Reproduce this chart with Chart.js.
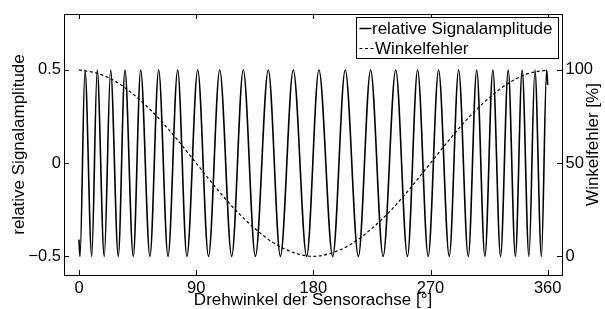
<!DOCTYPE html>
<html>
<head>
<meta charset="utf-8">
<script src="https://cdn.jsdelivr.net/npm/chart.js@4.4.0/dist/chart.umd.min.js"></script>
<style>
  body { margin: 0; background: #fff; }
  #wrap { width: 605px; height: 309px; }
</style>
</head>
<body>
<div id="wrap"><canvas id="chart" width="605" height="309"></canvas></div>
<script>
const sigAngles = [0, 0.8, 4.6, 9.8, 14.0, 19.4, 24.3, 30.2, 35.3, 41.7, 47.4, 54.5, 61.2, 68.4, 75.8,
  82.9, 91.2, 99.5, 108.1, 117.3, 126.2, 135.5, 145.4, 154.7, 164.6, 174.9, 184.3, 194.9, 204.5,
  214.6, 224.0, 233.6, 243.3, 252.3, 260.1, 268.2, 276.2, 284.4, 291.6, 299.0, 305.5, 311.8, 317.9,
  323.8, 329.7, 335.2, 340.4, 345.6, 350.2, 355.2, 359.2, 360];
const sigValues = [-0.41, -0.5, 0.5, -0.5, 0.5, -0.5, 0.5, -0.5, 0.5, -0.5, 0.5, -0.5, 0.5, -0.5, 0.5,
  -0.5, 0.5, -0.5, 0.5, -0.5, 0.5, -0.5, 0.5, -0.5, 0.5, -0.5, 0.5, -0.5, 0.5,
  -0.5, 0.5, -0.5, 0.5, -0.5, 0.5, -0.5, 0.5, -0.5, 0.5, -0.5, 0.5, -0.5, 0.5,
  -0.5, 0.5, -0.5, 0.5, -0.5, 0.5, -0.5, 0.5, 0.42];

// Winkelfehler [%]
const errAngles = [0, 15, 30, 45, 60, 75, 90, 105, 120, 135, 150, 165, 180,
  195, 210, 225, 240, 255, 270, 285, 300, 315, 330, 345, 360];
const errValues = [100, 98, 93, 85, 75, 63, 50, 37, 25, 15, 7, 2, 0,
  2, 7, 15, 25, 37, 50, 63, 75, 85, 93, 98, 100];

const xTicks = [0, 90, 180, 270, 360];
const yTicks = [-0.5, 0, 0.5];
const y2Ticks = [0, 50, 100];
const seriesLabels = ['relative Signalamplitude', 'Winkelfehler'];
const xTitle = 'Drehwinkel der Sensorachse [°]';
const yTitle = 'relative Signalamplitude';
const y2Title = 'Winkelfehler [%]';

const FONT = '"Liberation Sans", Arial, Helvetica, sans-serif';

function fixTicks(list) {
    return function (scale) {
        scale.ticks = list.map(v => ({ value: v }));
    };
}

function fmt(v) {
    return String(v).replace('-', '\u2212');
}

// frame, mirrored inward ticks, right title and the boxed legend
const framePlugin = {
    id: 'frame',
    afterDraw(chart) {
        const ctx = chart.ctx;
        const a = chart.chartArea;
        const sx = chart.scales.x, sy = chart.scales.y, sy2 = chart.scales.y2;
        const t = 5;

        ctx.save();
        ctx.strokeStyle = '#000';
        ctx.lineWidth = 1;
        ctx.beginPath();
        xTicks.forEach(v => {
            const px = Math.round(sx.getPixelForValue(v)) + 0.5;
            ctx.moveTo(px, a.bottom); ctx.lineTo(px, a.bottom - t);
            ctx.moveTo(px, a.top); ctx.lineTo(px, a.top + t);
        });
        yTicks.forEach(v => {
            const py = Math.round(sy.getPixelForValue(v)) + 0.5;
            ctx.moveTo(a.left, py); ctx.lineTo(a.left + t, py);
        });
        y2Ticks.forEach(v => {
            const py = Math.round(sy2.getPixelForValue(v)) + 0.5;
            ctx.moveTo(a.right, py); ctx.lineTo(a.right - t, py);
        });
        ctx.stroke();
        ctx.strokeRect(Math.round(a.left) + 0.5, Math.round(a.top) + 0.5,
            Math.round(a.right - a.left), Math.round(a.bottom - a.top));

        // right axis title, reading upwards
        ctx.fillStyle = '#000';
        ctx.font = '17px ' + FONT;
        ctx.translate(593, (a.top + a.bottom) / 2);
        ctx.rotate(-Math.PI / 2);
        ctx.textAlign = 'center';
        ctx.textBaseline = 'middle';
        ctx.fillText(y2Title, 0, 0);
        ctx.restore();

        // legend
        ctx.save();
        ctx.font = '17px ' + FONT;
        const tw = Math.max(...seriesLabels.map(s => ctx.measureText(s).width));
        const bw = Math.round(tw + 22);
        const right = Math.round(a.right) - 3.5;
        const left = right - bw;
        const top = Math.round(a.top) + 3.5;
        ctx.fillStyle = '#fff';
        ctx.fillRect(left, top, bw, 41);
        ctx.strokeStyle = '#000';
        ctx.lineWidth = 1;
        ctx.strokeRect(left, top, bw, 41);

        ctx.beginPath();
        ctx.lineWidth = 1.5;
        ctx.moveTo(left + 3, top + 11); ctx.lineTo(left + 15, top + 11);
        ctx.stroke();
        ctx.beginPath();
        ctx.lineWidth = 1.2;
        ctx.setLineDash([3, 2.5]);
        ctx.moveTo(left + 3, top + 31); ctx.lineTo(left + 17, top + 31);
        ctx.stroke();
        ctx.setLineDash([]);

        ctx.fillStyle = '#000';
        ctx.textAlign = 'left';
        ctx.textBaseline = 'alphabetic';
        ctx.fillText(seriesLabels[0], left + 15.5, top + 16);
        ctx.fillText(seriesLabels[1], left + 18.5, top + 36);
        ctx.restore();
    }
};

const ctx = document.getElementById('chart').getContext('2d');

new Chart(ctx, {
    type: 'line',
    data: {
        datasets: [{
            label: seriesLabels[0],
            data: sigAngles.map((x, i) => ({ x: x, y: sigValues[i] })),
            yAxisID: 'y',
            borderColor: '#000',
            borderWidth: 1.6,
            pointRadius: 0,
            cubicInterpolationMode: 'monotone',
            fill: false
        }, {
            label: seriesLabels[1],
            data: errAngles.map((x, i) => ({ x: x, y: errValues[i] })),
            yAxisID: 'y2',
            borderColor: '#000',
            borderWidth: 1.2,
            borderDash: [3, 2.5],
            pointRadius: 0,
            cubicInterpolationMode: 'monotone',
            fill: false
        }]
    },
    options: {
        responsive: false,
        animation: false,
        devicePixelRatio: 1,
        layout: { padding: { top: 14, left: 0, right: 0, bottom: 0 } },
        plugins: {
            legend: { display: false },
            tooltip: { enabled: false }
        },
        scales: {
            x: {
                type: 'linear',
                min: -11.5,
                max: 371,
                afterBuildTicks: fixTicks(xTicks),
                afterFit(s) { s.height = 34; },
                grid: { display: false, drawTicks: false },
                border: { display: false },
                ticks: {
                    color: '#000',
                    padding: 4,
                    maxRotation: 0,
                    autoSkip: false,
                    font: { family: FONT, size: 16.5 }
                },
                title: {
                    display: true,
                    text: xTitle,
                    color: '#000',
                    padding: 0,
                    font: { family: FONT, size: 17, lineHeight: 1 }
                }
            },
            y: {
                position: 'left',
                min: -0.6,
                max: 0.8,
                afterBuildTicks: fixTicks(yTicks),
                afterFit(s) { s.width = 64; },
                grid: { display: false, drawTicks: false },
                border: { display: false },
                ticks: {
                    color: '#000',
                    padding: 3,
                    callback: v => fmt(v),
                    font: { family: FONT, size: 16.5 }
                },
                title: {
                    display: true,
                    text: yTitle,
                    color: '#000',
                    padding: { top: 10.5, bottom: 0 },
                    font: { family: FONT, size: 17, lineHeight: 1 }
                }
            },
            y2: {
                position: 'right',
                min: -10,
                max: 130,
                afterBuildTicks: fixTicks(y2Ticks),
                afterFit(s) { s.width = 43; },
                grid: { display: false, drawTicks: false },
                border: { display: false },
                ticks: {
                    color: '#000',
                    padding: 3.5,
                    font: { family: FONT, size: 16.5 }
                }
            }
        }
    },
    plugins: [framePlugin]
});
</script>
</body>
</html>
